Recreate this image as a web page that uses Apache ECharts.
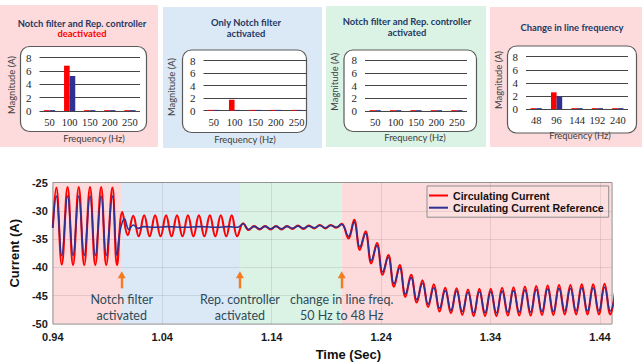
<!DOCTYPE html>
<html><head><meta charset="utf-8">
<script src="https://cdn.jsdelivr.net/npm/echarts@6/dist/echarts.min.js"></script>
<style>html,body{margin:0;padding:0;background:#fff}#c{width:642px;height:364px}</style>
</head><body><div id="c"></div>
<script>
// ---------- spectrum panels ----------
const freq50 = ['50','100','150','200','250'];
const freq48 = ['48','96','144','192','240'];
const p1Current = [0.13, 6.8, 0.13, 0.13, 0.13];
const p1Reference = [0.13, 5.25, 0.13, 0.13, 0.13];
const p2Current = [0.13, 1.75, 0.13, 0.13, 0.13];
const p2Reference = [0.13, 0.13, 0.13, 0.13, 0.13];
const p3Current = [0.13, 0.13, 0.13, 0.13, 0.13];
const p3Reference = [0.13, 0.13, 0.13, 0.13, 0.13];
const p4Current = [0.13, 2.55, 0.13, 0.13, 0.13];
const p4Reference = [0.13, 1.88, 0.13, 0.13, 0.13];
const panelTitles = [
  ['Notch filter and Rep. controller', 'deactivated'],
  ['Only Notch filter', 'activated'],
  ['Notch filter and Rep. controller', 'activated'],
  ['Change in line frequency']
];

// ---------- time-domain waveform ----------
const currentT = [
 0.9400,0.9432,0.9482,0.9535,0.9585,0.9637,0.9687,0.9740,0.9788,0.9842,0.9888,0.9945,0.9987,
 1.0035,1.0085,1.0135,1.0185,1.0235,1.0285,1.0335,1.0385,1.0435,1.0485,1.0535,1.0585,1.0635,1.0685,1.0735,1.0785,1.0835,1.0885,1.0935,1.0985,1.1035,1.1085,
 1.1140,1.1190,1.1240,1.1290,1.1340,1.1390,1.1440,1.1490,1.1540,1.1590,1.1640,1.1690,1.1740,1.1790,1.1840,1.1890,1.1940,1.1990,
 1.2040,1.2102,1.2154,1.2206,1.2258,1.2310,1.2362,1.2414,1.2466,1.2518,1.2570,1.2622,1.2674,1.2726,1.2778,1.2830,1.2882,1.2934,1.2986,1.3038,
 1.3090,1.3142,1.3194,1.3246,1.3298,1.3350,1.3402,1.3454,1.3506,1.3558,1.3610,1.3662,1.3714,1.3766,1.3818,1.3870,1.3922,1.3974,
 1.4026,1.4078,1.4130,1.4182,1.4234,1.4286,1.4338,1.4390,1.4442,1.4494,1.4546
];
const currentA = [
 -33.0,-25.9,-39.5,-25.8,-39.6,-25.8,-39.6,-25.8,-39.6,-25.8,-39.6,-25.9,-39.6,
 -30.2,-34.3,-30.9,-34.5,-30.8,-34.5,-30.8,-34.5,-30.8,-34.5,-30.8,-34.5,-30.8,-34.5,-30.8,-34.5,-30.8,-34.5,-30.8,-34.5,-30.8,-34.5,
 -32.2,-33.4,-32.7,-33.3,-32.7,-33.3,-32.7,-33.3,-32.7,-33.2,-32.6,-33.2,-32.6,-33.1,-32.5,-33.1,-32.5,-33.0,
 -32.3,-34.9,-31.6,-36.9,-33.6,-39.3,-35.7,-41.3,-37.8,-43.4,-39.6,-45.2,-41.3,-46.2,-42.3,-47.0,-43.0,-47.8,-43.6,-48.1,
 -43.7,-48.4,-43.9,-48.6,-43.8,-48.6,-43.8,-48.6,-43.6,-48.5,-43.5,-48.5,-43.4,-48.5,-43.3,-48.4,-43.2,-48.4,
 -43.1,-48.3,-43.1,-48.3,-43.0,-48.3,-43.0,-48.3,-42.9,-48.3,-43.0
];
const referenceT = [
 0.9400,0.9432,0.9482,0.9535,0.9585,0.9637,0.9687,0.9740,0.9788,0.9842,0.9888,0.9945,0.9987,
 1.0012,1.0055,1.0095,1.0135,1.0180,1.0230,1.0330,1.0450,1.0600,1.0750,1.0900,1.1000,1.1090,
 1.1140,1.1190,1.1240,1.1290,1.1340,1.1390,1.1440,1.1490,1.1540,1.1590,1.1640,1.1690,1.1740,1.1790,1.1840,1.1890,1.1940,1.1990,
 1.2040,1.2102,1.2154,1.2206,1.2258,1.2310,1.2362,1.2414,1.2466,1.2518,1.2570,1.2622,1.2674,1.2726,1.2778,1.2830,1.2882,1.2934,1.2986,1.3038,
 1.3090,1.3142,1.3194,1.3246,1.3298,1.3350,1.3402,1.3454,1.3506,1.3558,1.3610,1.3662,1.3714,1.3766,1.3818,1.3870,1.3922,1.3974,
 1.4026,1.4078,1.4130,1.4182,1.4234,1.4286,1.4338,1.4390,1.4442,1.4494,1.4546
];
const referenceA = [
 -33.0,-27.4,-37.9,-27.4,-37.9,-27.4,-37.9,-27.4,-37.9,-27.4,-37.9,-27.4,-37.9,
 -33.8,-31.4,-33.3,-32.5,-33.1,-32.8,-32.9,-32.8,-32.9,-32.8,-32.9,-32.8,-32.9,
 -32.3,-33.3,-32.75,-33.2,-32.75,-33.2,-32.75,-33.2,-32.75,-33.1,-32.7,-33.1,-32.7,-33.0,-32.6,-33.0,-32.6,-32.9,
 -32.4,-34.5,-32.0,-36.4,-34.0,-38.8,-36.1,-40.8,-38.2,-42.9,-40.1,-44.7,-41.8,-45.7,-42.8,-46.5,-43.6,-47.2,-44.1,-47.6,
 -44.2,-47.8,-44.4,-48.0,-44.3,-48.0,-44.3,-48.0,-44.2,-47.9,-44.1,-47.9,-44.0,-47.9,-43.9,-47.8,-43.8,-47.8,
 -43.7,-47.7,-43.7,-47.7,-43.6,-47.7,-43.6,-47.7,-43.5,-47.7,-43.6
];
const phaseStart = [0.94, 1.003, 1.111, 1.204];
const phaseEnd = [1.003, 1.111, 1.204, 1.451];
const eventTimes = [1.003, 1.111, 1.204];
const eventLabels = ['Notch filter\nactivated', 'Rep. controller\nactivated', 'change in line freq.\n50 Hz to 48 Hz'];
const timeTicksStart = 0.94, timeTicksStep = 0.1;

// ---------- layout (styles / positions) ----------
const RED = '#ff0000', NAVY = '#2e3192';
const PINK = '#fddadb', BLUE = '#dbe8f5', GREEN = '#daf3e5';
const panels = [
  {bg:[0,5,158,142,PINK],  box:[20.5,46.5,126,85],  grid:[39.5,57.7,100.5,53.3], tx:82,  ty:[23,33.3], freq:[94,138],  mag:[11.7,85], cats:freq50, cur:p1Current, ref:p1Reference},
  {bg:[163,7,159,141,BLUE],box:[182.5,50,124,82.5], grid:[203.5,60.7,103.5,50],  tx:246, ty:[22.7,33.3], freq:[245,139], mag:[171.7,87], cats:freq50, cur:p2Current, ref:p2Reference},
  {bg:[326,6,160,141,GREEN],box:[344,50,132.5,81.5],grid:[365,60,102,51],       tx:407, ty:[21,32.3], freq:[415,137], mag:[334,81.7], cats:freq50, cur:p3Current, ref:p3Reference},
  {bg:[490,7,152,140,PINK],box:[507.5,46,129,87],   grid:[526,56.7,102,52.3],    tx:572, ty:[27.3],    freq:[580,135.7], mag:[498,80], cats:freq48, cur:p4Current, ref:p4Reference}
];

const grids = [], xAxes = [], yAxes = [], series = [], graphics = [];
panels.forEach((p, i) => {
  graphics.push({type:'rect', z:-20, silent:true, shape:{x:p.bg[0], y:p.bg[1], width:p.bg[2], height:p.bg[3]}, style:{fill:p.bg[4]}});
  graphics.push({type:'rect', z:-10, silent:true, shape:{x:p.box[0], y:p.box[1], width:p.box[2], height:p.box[3], r:9}, style:{fill:'#fff', stroke:'#5a5a5a', lineWidth:1.2}});
  panelTitles[i].forEach((line, k) => {
    const red = line === 'deactivated';
    graphics.push({type:'text', z:10, silent:true, style:{text:line, x:p.tx, y:p.ty[k], fill: red ? RED : '#1f3864',
      font:'bold 9.4px Lato', align:'center', verticalAlign:'middle', textAlign:'center', textVerticalAlign:'middle'}});
  });
  graphics.push({type:'text', z:10, silent:true, style:{text:'Frequency (Hz)', x:p.freq[0], y:p.freq[1], fill:'#404040',
      font:'9.4px Lato', align:'center', verticalAlign:'middle', textAlign:'center', textVerticalAlign:'middle'}});
  graphics.push({type:'text', z:10, silent:true, x:p.mag[0], y:p.mag[1], rotation:Math.PI/2, style:{text:'Magnitude (A)', x:0, y:0, fill:'#404040',
      font:'9.4px Lato', align:'center', verticalAlign:'middle', textAlign:'center', textVerticalAlign:'middle'}});
  grids.push({left:p.grid[0], top:p.grid[1], width:p.grid[2], height:p.grid[3]});
  xAxes.push({type:'category', gridIndex:i, data:p.cats, axisLine:{show:false}, axisTick:{show:false},
      axisLabel:{fontFamily:'Liberation Serif', fontSize:10.5, color:'#262626', margin:6, interval:0}});
  yAxes.push({type:'value', gridIndex:i, min:0, max:8, interval:2, axisLine:{show:false}, axisTick:{show:false},
      axisLabel:{fontFamily:'Liberation Serif', fontSize:11, color:'#262626', margin:8},
      splitLine:{lineStyle:{color:'#454545', width:1}}});
  series.push({type:'bar', xAxisIndex:i, yAxisIndex:i, data:p.cur, barWidth:5.6, barGap:'0%', itemStyle:{color:RED}, silent:true, z:3});
  series.push({type:'bar', xAxisIndex:i, yAxisIndex:i, data:p.ref, barWidth:5.6, barGap:'0%', itemStyle:{color:NAVY}, silent:true, z:3});
});

// main grid
grids.push({left:46, right:30, top:182.5, bottom:40, show:true, z:2, borderColor:'#a3a3a3', borderWidth:1, backgroundColor:'transparent'});
xAxes.push({type:'value', gridIndex:4, min:0.94, max:1.451, interval:timeTicksStep, z:2,
  axisLine:{show:false}, axisTick:{show:false},
  axisLabel:{fontFamily:'Liberation Sans', fontWeight:'bold', fontSize:11, color:'#1a1a1a', margin:7,
    formatter:v => { const k = (v - timeTicksStart) / timeTicksStep; return Math.abs(k - Math.round(k)) < 1e-6 ? v.toFixed(2) : ''; }},
  splitLine:{lineStyle:{color:'rgba(0,0,0,0.09)'}},
  name:'Time (Sec)', nameLocation:'middle', nameGap:24,
  nameTextStyle:{fontFamily:'Liberation Sans', fontWeight:'bold', fontSize:13, color:'#111', padding:[0,0,0,32]}});
yAxes.push({type:'value', gridIndex:4, min:-50, max:-25, interval:5, z:2,
  axisLine:{show:false}, axisTick:{show:false},
  axisLabel:{fontFamily:'Liberation Sans', fontWeight:'bold', fontSize:11, color:'#1a1a1a', margin:5},
  splitLine:{lineStyle:{color:'rgba(0,0,0,0.09)'}},
  name:'Current (A)', nameLocation:'middle', nameGap:27, nameRotate:90,
  nameTextStyle:{fontFamily:'Liberation Sans', fontWeight:'bold', fontSize:13, color:'#111'}});

const phaseColors = [PINK, BLUE, GREEN, PINK];
series.push({
  type:'line', name:'Circulating Current', xAxisIndex:4, yAxisIndex:4, z:3, silent:true,
  data: currentT.map((t, i) => [t, currentA[i]]), smooth:0.42, symbol:'none', clip:true,
  lineStyle:{color:RED, width:2.1}, itemStyle:{color:RED},
  markArea:{silent:true, data: phaseStart.map((s, i) => [{xAxis:s, itemStyle:{color:phaseColors[i]}}, {xAxis:phaseEnd[i]}])},
  markLine:{silent:true, symbol:['none','triangle'], symbolSize:[8,7], label:{show:false},
    lineStyle:{color:'#f47b20', width:2.4, type:'solid'},
    data: eventTimes.map(t => [{coord:[t, -43.7]}, {coord:[t, -41.3]}])},
  markPoint:{silent:true, symbol:'circle', symbolSize:1, itemStyle:{color:'rgba(0,0,0,0)'},
    label:{show:true, position:'inside', formatter:'{b}', fontFamily:'Lato', fontSize:12.5, lineHeight:16, color:'#2e4a57', align:'center'},
    data: eventTimes.map((t, i) => ({name:eventLabels[i], coord:[t, -47.0]}))}
});
series.push({
  type:'line', name:'Circulating Current Reference', xAxisIndex:4, yAxisIndex:4, z:4, silent:true,
  data: referenceT.map((t, i) => [t, referenceA[i]]), smooth:0.42, symbol:'none', clip:true,
  lineStyle:{color:NAVY, width:1.6}, itemStyle:{color:NAVY}
});

const chart = echarts.init(document.getElementById('c'), null, {renderer:'svg'});
chart.setOption({
  animation:false,
  backgroundColor:'#ffffff',
  grid:grids, xAxis:xAxes, yAxis:yAxes, series:series,
  legend:{data:['Circulating Current','Circulating Current Reference'], orient:'vertical', left:427, top:186,
    icon:'rect', itemWidth:19, itemHeight:2, itemGap:1.2, padding:[4,5,4,2], borderColor:'#8f8f8f', borderWidth:1,
    backgroundColor:'rgba(255,255,255,0.15)', selectedMode:false,
    textStyle:{fontFamily:'Liberation Sans', fontWeight:'bold', fontSize:10.6, color:'#111'}},
  graphic:{elements:graphics}
});
</script></body></html>
